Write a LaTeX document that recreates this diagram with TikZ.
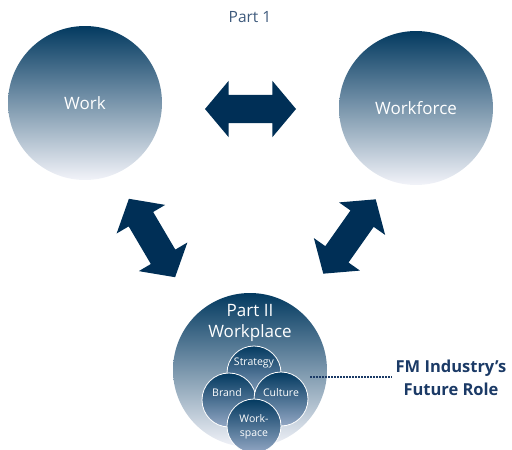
\documentclass[tikz,border=0pt]{standalone}
\usepackage{fontspec}
\setmainfont{Open Sans}
\usetikzlibrary{shapes.arrows}
\definecolor{navy}{HTML}{002F56}
\definecolor{balltop}{HTML}{033A60}
\definecolor{ballmid}{HTML}{56739A}
\definecolor{ballbot}{HTML}{F2F3F9}
\definecolor{smallbot}{HTML}{93A7C4}
\definecolor{parttext}{HTML}{3E5A7C}
\definecolor{roletext}{HTML}{1B3A66}

\begin{document}
\begin{tikzpicture}[x=1pt,y=-1pt,
    bigball/.style={circle,minimum size=154pt,inner sep=0pt,top color=balltop,middle color=ballmid,bottom color=ballbot},
    smallball/.style={circle,minimum size=54pt,inner sep=0pt,draw=white,line width=0.8pt,top color=balltop,bottom color=smallbot},
    balltext/.style={text=white,font=\fontsize{17}{21}\selectfont,align=center},
    smalltext/.style={text=white,font=\fontsize{10.5}{14}\selectfont,align=center,inner sep=0pt},
    twoway/.style={double arrow,fill=navy,inner xsep=0pt,inner ysep=14pt,minimum height=91pt,double arrow head extend=14pt,double arrow tip angle=100}]
    \useasboundingbox (0,0) rectangle (512,450);

    \node[parttext,font=\fontsize{15.5}{18}\selectfont] (part1) at (250,17) {Part 1};

    \node[bigball] (work) at (85,103) {};
    \node[balltext] (worktxt) at (work.center) {Work};
    \node[bigball] (force) at (416,108) {};
    \node[balltext] (forcetxt) at (force.center) {Workforce};
    \node[bigball] (place) at (250,370) {};
    \node[balltext] (placetxt) at (250,323) {Part II\\Workplace};

    % block arrows
    \node[twoway] (top) at (250.5,109) {};
    \node[twoway,rotate=-59.5] (left) at (152,238) {};
    \node[twoway,rotate=54.8] (right) at (349.5,236.5) {};

    % the four parts of the workplace
    \node[smallball] (strat) at (254,373) {};
    \node[smallball] (brand) at (229,400) {};
    \node[smallball] (culture) at (281,399) {};
    \node[smallball] (space) at (254,426) {};
    \node[smalltext] (strattxt) at (254,363) {Strategy};
    \node[smalltext] (brandtxt) at (227,393) {Brand};
    \node[smalltext] (culturetxt) at (281,393) {Culture};
    \node[smalltext] (spacetxt) at (254,427) {Work-\\space};

    \node[roletext,font=\bfseries\fontsize{16.5}{23}\selectfont,align=center] (role) at (451,378) {FM Industry’s\\Future Role};
    \coordinate (dot) at (310,377);
    \draw[roletext,line width=1.6pt,dash pattern=on 1.6pt off 1.4pt] (dot) -- (role.west |- dot);
\end{tikzpicture}
\end{document}
